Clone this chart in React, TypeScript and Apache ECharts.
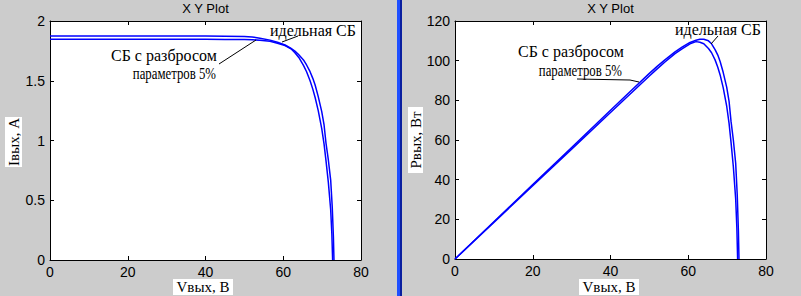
import React, { useEffect, useRef } from "react";
import * as echarts from "echarts";

// Output voltage (V) for ideal solar battery
const V_IDEAL = [0, 10, 20, 30, 40, 45, 50, 52, 54, 56.6, 58.5, 60.45, 62, 63, 64, 65.2, 66, 66.9, 67.6, 68.2, 69.0, 69.9, 70.5, 71.0, 71.6, 72.2, 72.6, 72.9, 73.05];
// Output current (A) for ideal solar battery
const I_IDEAL = [1.875, 1.875, 1.875, 1.875, 1.874, 1.873, 1.871, 1.866, 1.856, 1.84, 1.822, 1.799, 1.77, 1.748, 1.718, 1.674, 1.632, 1.576, 1.52, 1.464, 1.367, 1.241, 1.13, 0.977, 0.837, 0.669, 0.446, 0.195, 0];
// Output power (W) for ideal solar battery
const P_IDEAL = [0, 18.75, 37.5, 56.25, 75.0, 84.3, 93.6, 97.1, 100.4, 104.4, 107.0, 109.2, 110.3, 110.8, 110.8, 110.0, 108.5, 105.6, 102.8, 99.6, 94.0, 86.5, 79.5, 69.5, 60.0, 48.3, 32.4, 14.2, 0];

// Solar battery with 5% parameter scatter
const V_SB = [0, 10, 20, 30, 40, 45, 50, 52, 54, 56.6, 58.5, 60.45, 62, 63, 64, 65.2, 66, 66.9, 67.6, 68.2, 69.0, 69.9, 70.5, 71.0, 71.6, 72.2, 72.5, 72.7];
const I_SB = [1.847, 1.847, 1.847, 1.847, 1.847, 1.846, 1.845, 1.843, 1.839, 1.83, 1.814, 1.795, 1.768, 1.735, 1.695, 1.628, 1.575, 1.5, 1.43, 1.36, 1.25, 1.1, 0.97, 0.83, 0.65, 0.42, 0.22, 0];
const P_SB = [0, 18.47, 36.94, 55.41, 73.88, 83.07, 92.25, 95.84, 99.31, 103.58, 106.1, 108.5, 109.6, 109.3, 108.5, 106.1, 104.0, 100.4, 96.7, 92.8, 86.3, 76.9, 68.4, 58.9, 46.5, 30.3, 15.95, 0];

const TITLE = "X Y Plot";
const LABEL_IDEAL = "идельная СБ";
const LABEL_SB_1 = "СБ с разбросом";
const LABEL_SB_2 = "параметров 5%";
const X_NAME = "Vвых, В";
const Y_NAME_LEFT = "Iвых, А";
const Y_NAME_RIGHT = "Pвых, Вт";

const pairs = (xs: number[], ys: number[]) => xs.map((x, i) => [x, ys[i]]);

const SANS = "'Liberation Sans', Arial, sans-serif";
const SERIF = "'Liberation Serif', 'Times New Roman', serif";

function axisBase(gridIndex: number, position: string, labels: boolean, min: number, max: number, interval: number) {
  return {
    type: "value",
    gridIndex,
    position,
    min,
    max,
    interval,
    axisLine: { show: true, onZero: false, lineStyle: { color: "#000", width: 1 } },
    axisTick: { show: true, inside: true, length: 4, lineStyle: { color: "#000", width: 1 } },
    axisLabel: {
      show: labels,
      color: "#000",
      fontFamily: SANS,
      fontSize: 14,
      margin: 5,
      showMinLabel: true,
      showMaxLabel: true,
    },
    splitLine: { show: false },
  };
}

export default function App() {
  const ref = useRef<HTMLDivElement>(null);
  useEffect(() => {
    if (!ref.current) return;
    const chart = echarts.init(ref.current, undefined, { renderer: "svg" });
    const lineSeries = (name: string, data: number[][], xi: number, yi: number) => ({
      name,
      type: "line",
      xAxisIndex: xi,
      yAxisIndex: yi,
      data,
      showSymbol: false,
      symbol: "none",
      lineStyle: { color: "#0000ff", width: 1.5 },
      itemStyle: { color: "#0000ff" },
      silent: true,
    });
    const txt = (text: string, x: number, y: number, opts: any = {}) => ({
      type: "text",
      x,
      y,
      rotation: opts.rotation || 0,
      scaleX: opts.scaleX || 1,
      z: 100,
      style: {
        text,
        x: 0,
        y: 0,
        fill: "#000",
        font: opts.font || `16px ${SERIF}`,
        align: opts.align || "left",
        verticalAlign: "middle",
      },
    });
    const rect = (x: number, y: number, w: number, h: number, fill: string) => ({
      type: "rect",
      z: 90,
      shape: { x, y, width: w, height: h },
      style: { fill },
    });
    const ln = (x1: number, y1: number, x2: number, y2: number) => ({
      type: "line",
      z: 95,
      shape: { x1, y1, x2, y2 },
      style: { stroke: "#000", lineWidth: 1 },
    });
    chart.setOption({
      animation: false,
      backgroundColor: "#cccccc",
      grid: [
        { left: 50, top: 21, width: 311, height: 239, show: true, backgroundColor: "#ffffff", borderWidth: 0 },
        { left: 455, top: 21, width: 311, height: 238, show: true, backgroundColor: "#ffffff", borderWidth: 0 },
      ],
      xAxis: [
        axisBase(0, "bottom", true, 0, 80, 20),
        axisBase(0, "top", false, 0, 80, 20),
        axisBase(1, "bottom", true, 0, 80, 20),
        axisBase(1, "top", false, 0, 80, 20),
      ],
      yAxis: [
        axisBase(0, "left", true, 0, 2, 0.5),
        axisBase(0, "right", false, 0, 2, 0.5),
        axisBase(1, "left", true, 0, 120, 20),
        axisBase(1, "right", false, 0, 120, 20),
      ],
      series: [
        lineSeries("ideal IV", pairs(V_IDEAL, I_IDEAL), 0, 0),
        lineSeries("sb IV", pairs(V_SB, I_SB), 0, 0),
        lineSeries("ideal PV", pairs(V_IDEAL, P_IDEAL), 2, 2),
        lineSeries("sb PV", pairs(V_SB, P_SB), 2, 2),
      ],
      graphic: [
        // separator
        rect(397, 0, 3, 296, "#1f4fff"),
        rect(400, 0, 2, 296, "#0a1f9f"),
        // titles
        txt(TITLE, 205.5, 8, { font: `13px ${SANS}`, align: "center" }),
        txt(TITLE, 610.5, 8, { font: `13px ${SANS}`, align: "center" }),
        // axis names
        rect(5, 117, 17, 50, "#ffffff"),
        txt(Y_NAME_LEFT, 13.5, 142, { font: `15px ${SERIF}`, align: "center", rotation: Math.PI / 2 }),
        rect(408, 107, 15, 66, "#ffffff"),
        txt(Y_NAME_RIGHT, 415.5, 140, { font: `15px ${SERIF}`, align: "center", rotation: Math.PI / 2 }),
        rect(173, 279, 60, 16, "#ffffff"),
        txt(X_NAME, 203, 287, { font: `15px ${SERIF}`, align: "center" }),
        rect(579, 279, 60, 16, "#ffffff"),
        txt(X_NAME, 609, 287, { font: `15px ${SERIF}`, align: "center" }),
        // left annotations
        txt(LABEL_IDEAL, 270, 30),
        ln(298, 36, 282, 42),
        txt(LABEL_SB_1, 111, 55),
        txt(LABEL_SB_2, 216, 73, { align: "right", scaleX: 0.8 }),
        ln(219, 64, 256, 40),
        // right annotations
        txt(LABEL_IDEAL, 675, 29),
        ln(718, 36, 711, 44),
        txt(LABEL_SB_1, 518, 51),
        txt(LABEL_SB_2, 622, 70, { align: "right", scaleX: 0.8 }),
        { type: "polyline", z: 95, shape: { points: [[577, 79], [630, 80], [639, 82]] }, style: { stroke: "#000", lineWidth: 1, fill: "none" } },
      ],
    });
    return () => chart.dispose();
  }, []);
  return <div ref={ref} style={{ position: "fixed", left: 0, top: 0, width: 801, height: 296 }} />;
}
